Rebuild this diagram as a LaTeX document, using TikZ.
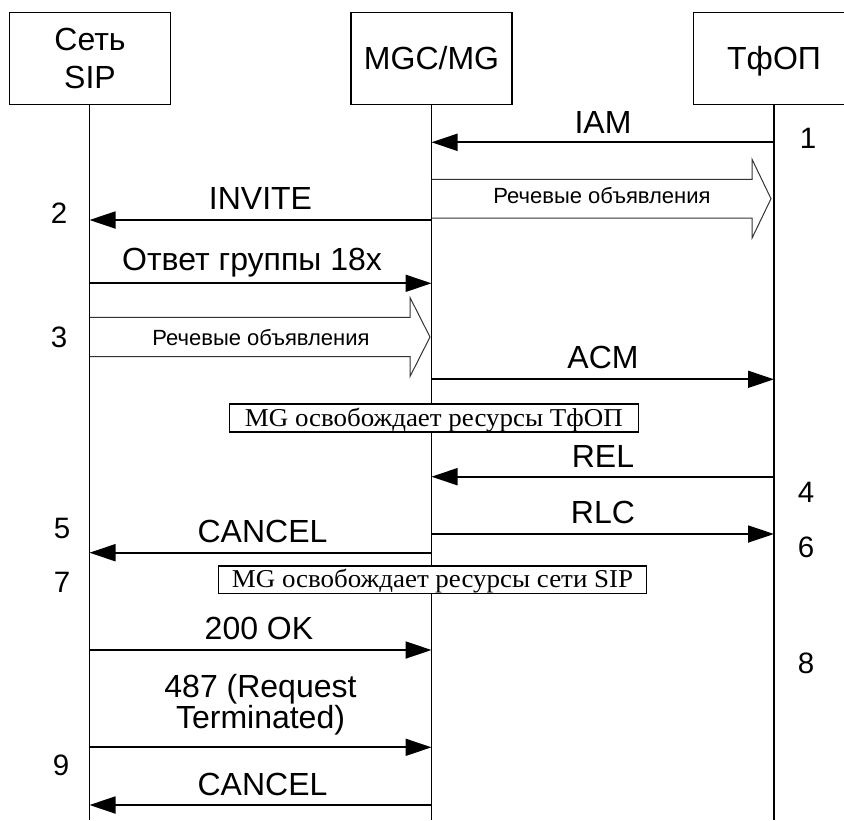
\documentclass[tikz,border=0pt]{standalone}
\usepackage{fontspec}
\setmainfont{Liberation Sans}
\newfontfamily\notefont{Liberation Serif}
\usetikzlibrary{arrows.meta}
\begin{document}
\begin{tikzpicture}[x=1pt,y=-1pt,
  lbl/.style={anchor=base, inner sep=0pt, font=\fontsize{32}{27}\selectfont},
  num/.style={anchor=base, inner sep=0pt, font=\fontsize{29.5}{29}\selectfont},
  smalllbl/.style={anchor=base, inner sep=0pt, font=\fontsize{22}{22}\selectfont},
  hdr/.style={draw, line width=1.6pt, minimum width=161pt, minimum height=92pt, inner sep=0pt},
  life/.style={line width=1.6pt},
  msg/.style={line width=1.8pt, -{Triangle[length=26pt,width=17pt]}},
  notebox/.style={draw, line width=1.4pt, fill=white, inner sep=0pt, text height=16pt, text depth=0pt,
                  font=\notefont\fontsize{24.5}{24}\selectfont},
  hollow/.style={line width=1pt, draw=black!80}
]
\useasboundingbox (0,0) rectangle (844,820);

% header boxes
\node[hdr] (hA) at (90,58.5) {};
\node[hdr] (hB) at (431.5,58.5) {};
\node[hdr] (hC) at (774,58.5) {};
\node[lbl] (tA1) at (90,50) {Сеть};
\node[lbl] (tA2) at (90,88) {SIP};
\node[lbl] (tB) at (431.5,69) {MGC/MG};
\node[lbl] (tC) at (774,69) {ТфОП};

% lifeline ends
\coordinate (eA) at (89.5,820);
\coordinate (eB) at (431.5,820);
\coordinate (eC) at (774,820);
\draw[life] (hA.south -| eA) -- (eA);
\draw[life] (hB.south) -- (eB);
\draw[life] (hC.south) -- (eC);

% message points
\coordinate (C1) at (774,142.3);   \coordinate (B1) at (431.5,142.3);
\coordinate (B2) at (431.5,220);   \coordinate (A2) at (89.5,220);
\coordinate (A3) at (89.5,283.3);  \coordinate (B3) at (431.5,283.3);
\coordinate (B4) at (431.5,379.3); \coordinate (C4) at (774,379.3);
\coordinate (C5) at (774,476.7);   \coordinate (B5) at (431.5,476.7);
\coordinate (B6) at (431.5,534);   \coordinate (C6) at (774,534);
\coordinate (B7) at (431.5,552.7); \coordinate (A7) at (89.5,552.7);
\coordinate (A8) at (89.5,650);    \coordinate (B8) at (431.5,650);
\coordinate (A9) at (89.5,747.3);  \coordinate (B9) at (431.5,747.3);
\coordinate (B10) at (431.5,805);  \coordinate (A10) at (89.5,805);

\draw[msg] (C1) -- (B1);
\draw[msg] (B2) -- (A2);
\draw[msg] (A3) -- (B3);
\draw[msg] (B4) -- (C4);
\draw[msg] (C5) -- (B5);
\draw[msg] (B6) -- (C6);
\draw[msg] (B7) -- (A7);
\draw[msg] (A8) -- (B8);
\draw[msg] (A9) -- (B9);
\draw[msg] (B10) -- (A10);

% message labels
\node[lbl] (m1) at (603,133) {IAM};
\node[lbl] (m2) at (260.5,209.3) {INVITE};
\node[lbl] (m3) at (252,270) {Ответ группы 18x};
\node[lbl] (m4) at (603,368) {ACM};
\node[lbl] (m5) at (603,467) {REL};
\node[lbl] (m6) at (603,523) {RLC};
\node[lbl] (m7) at (262.5,542) {CANCEL};
\node[lbl] (m8) at (259,639) {200 OK};
\node[lbl, anchor=center, align=center] (m9) at (260.5,705) {487 (Request\\Terminated)};
\node[lbl] (m10) at (262.5,795) {CANCEL};

% hollow arrows (speech announcements)
\coordinate (v1a) at (431.5,198.7); \coordinate (v1b) at (771,198.7);
\draw[hollow] ([yshift=19.3pt]v1a) -- ([xshift=-19pt,yshift=19.3pt]v1b) -- ([xshift=-19pt,yshift=39.5pt]v1b)
   -- (v1b) -- ([xshift=-19pt,yshift=-39.5pt]v1b) -- ([xshift=-19pt,yshift=-19.3pt]v1b) -- ([yshift=-19.3pt]v1a);
\node[smalllbl] (s1) at (602,203.5) {Речевые объявления};

\coordinate (v2a) at (89.5,337); \coordinate (v2b) at (430,337);
\draw[hollow] ([yshift=19.7pt]v2a) -- ([xshift=-20pt,yshift=19.7pt]v2b) -- ([xshift=-20pt,yshift=39.5pt]v2b)
   -- (v2b) -- ([xshift=-20pt,yshift=-39.5pt]v2b) -- ([xshift=-20pt,yshift=-19.7pt]v2b) -- ([yshift=-19.7pt]v2a);
\node[smalllbl] (s2) at (261,345) {Речевые объявления};

% notes
\node[notebox, minimum width=409pt, minimum height=27.7pt] (n1) at (433.8,418)
  {\scalebox{1.1}[1.05]{MG освобождает ресурсы ТфОП}};
\node[notebox, minimum width=428.4pt, minimum height=27.3pt] (n2) at (432.5,579.7)
  {\scalebox{1.1}[1.05]{MG освобождает ресурсы сети SIP}};

% step numbers
\node[num] (k1) at (808,148) {1};
\node[num] (k2) at (59,223) {2};
\node[num] (k3) at (59,347) {3};
\node[num] (k4) at (806,502) {4};
\node[num] (k5) at (62,538) {5};
\node[num] (k6) at (806,557) {6};
\node[num] (k7) at (62,592) {7};
\node[num] (k8) at (806,673) {8};
\node[num] (k9) at (61,775) {9};
\end{tikzpicture}
\end{document}
